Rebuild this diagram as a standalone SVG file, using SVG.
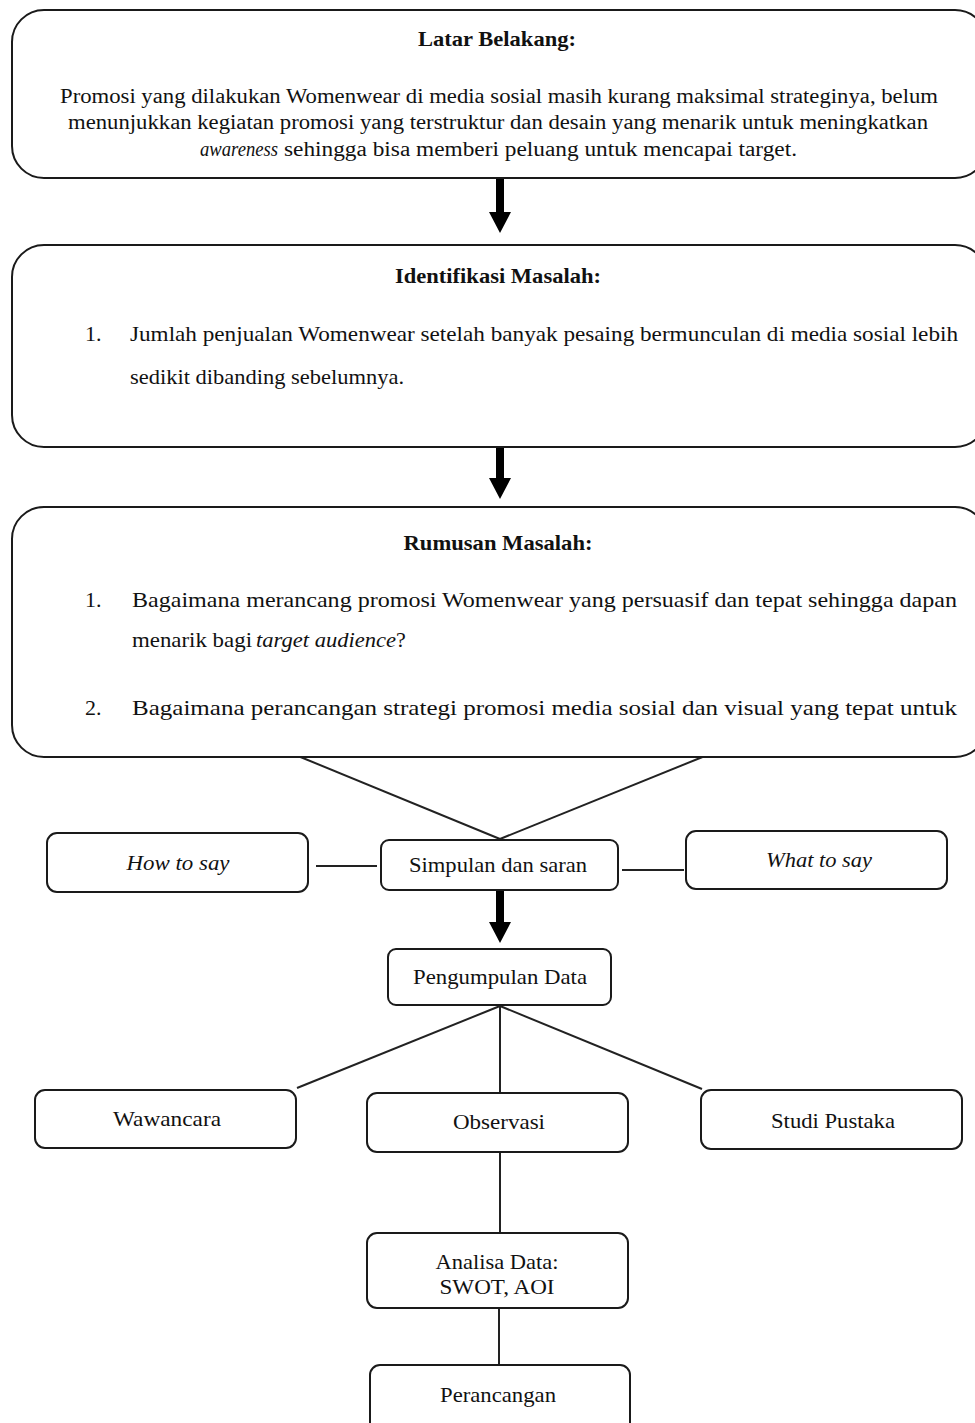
<svg xmlns="http://www.w3.org/2000/svg" width="975" height="1423" viewBox="0 0 975 1423">
<style>
.big{fill:#fff;stroke:#1a1a1a;stroke-width:2}
.box{fill:#fff;stroke:#1a1a1a;stroke-width:2}
.t{font-family:"Liberation Serif","Times New Roman",serif;font-size:20px;fill:#111}
.h{font-size:21px;font-weight:bold}
.l{font-size:22px}
.s{font-size:21px}
.i{font-style:italic}
.c{text-anchor:middle}
.ln{stroke:#222;stroke-width:2;fill:none}
.ar{fill:#000}
</style>
<rect width="975" height="1423" fill="#fff"/>
<g id="connectors">
<path class="ar" d="M496,179 H504 V212 H511 L500,233 L489,212 H496 Z"/>
<path class="ar" d="M496,448 H504 V478 H511 L500,499 L489,478 H496 Z"/>
<path class="ar" d="M496,891 H504 V922 H511 L500,943 L489,922 H496 Z"/>
<line class="ln" x1="298" y1="756" x2="500" y2="839"/>
<line class="ln" x1="705" y1="756" x2="500" y2="839"/>
<line class="ln" x1="316" y1="866" x2="377" y2="866"/>
<line class="ln" x1="622" y1="870" x2="684" y2="870"/>
<line class="ln" x1="500" y1="1006" x2="297" y2="1088"/>
<line class="ln" x1="500" y1="1006" x2="500" y2="1092"/>
<line class="ln" x1="500" y1="1006" x2="702" y2="1089"/>
<line class="ln" x1="500" y1="1152" x2="500" y2="1233"/>
<line class="ln" x1="499" y1="1309" x2="499" y2="1365"/>
</g>
<g id="latar">
<rect class="big" x="12" y="10" width="975" height="168" rx="32"/>
<text class="t h c" x="497" y="46" textLength="158" lengthAdjust="spacingAndGlyphs">Latar Belakang:</text>
<text class="t" x="60" y="103" textLength="878" lengthAdjust="spacingAndGlyphs">Promosi yang dilakukan Womenwear di media sosial masih kurang maksimal strateginya, belum</text>
<text class="t" x="68" y="129" textLength="860" lengthAdjust="spacingAndGlyphs">menunjukkan kegiatan promosi yang terstruktur dan desain yang menarik untuk meningkatkan</text>
<text class="t i" x="200" y="156" textLength="78" lengthAdjust="spacingAndGlyphs">awareness</text>
<text class="t" x="284" y="156" textLength="513" lengthAdjust="spacingAndGlyphs">sehingga bisa memberi peluang untuk mencapai target.</text>
</g>
<g id="identifikasi">
<rect class="big" x="12" y="245" width="975" height="202" rx="32"/>
<text class="t h c" x="498" y="283" textLength="206" lengthAdjust="spacingAndGlyphs">Identifikasi Masalah:</text>
<text class="t l" x="85" y="341">1.</text>
<text class="t l" x="130" y="341" textLength="828" lengthAdjust="spacingAndGlyphs">Jumlah penjualan Womenwear setelah banyak pesaing bermunculan di media sosial lebih</text>
<text class="t l" x="130" y="384" textLength="274" lengthAdjust="spacingAndGlyphs">sedikit dibanding sebelumnya.</text>
</g>
<g id="rumusan">
<rect class="big" x="12" y="507" width="975" height="250" rx="32"/>
<text class="t h c" x="498" y="550" textLength="189" lengthAdjust="spacingAndGlyphs">Rumusan Masalah:</text>
<text class="t l" x="85" y="607">1.</text>
<text class="t l" x="132" y="607" textLength="825" lengthAdjust="spacingAndGlyphs">Bagaimana merancang promosi Womenwear yang persuasif dan tepat sehingga dapan</text>
<text class="t l" x="132" y="647" textLength="120" lengthAdjust="spacingAndGlyphs">menarik bagi</text>
<text class="t l i" x="256" y="647" textLength="140" lengthAdjust="spacingAndGlyphs">target audience</text>
<text class="t l" x="396" y="647">?</text>
<text class="t l" x="85" y="715">2.</text>
<text class="t l" x="132" y="715" textLength="825" lengthAdjust="spacingAndGlyphs">Bagaimana perancangan strategi promosi media sosial dan visual yang tepat untuk</text>
</g>
<g id="howtosay">
<rect class="box" x="47" y="833" width="261" height="59" rx="10"/>
<text class="t s i c" x="178" y="870" textLength="103" lengthAdjust="spacingAndGlyphs">How to say</text>
</g>
<g id="simpulan">
<rect class="box" x="381" y="840" width="237" height="50" rx="8"/>
<text class="t s c" x="498" y="872" textLength="178" lengthAdjust="spacingAndGlyphs">Simpulan dan saran</text>
</g>
<g id="whattosay">
<rect class="box" x="686" y="831" width="261" height="58" rx="10"/>
<text class="t s i c" x="819" y="867" textLength="106" lengthAdjust="spacingAndGlyphs">What to say</text>
</g>
<g id="pengumpulan">
<rect class="box" x="388" y="949" width="223" height="56" rx="8"/>
<text class="t s c" x="500" y="984" textLength="174" lengthAdjust="spacingAndGlyphs">Pengumpulan Data</text>
</g>
<g id="wawancara">
<rect class="box" x="35" y="1090" width="261" height="58" rx="10"/>
<text class="t s c" x="167" y="1126" textLength="108" lengthAdjust="spacingAndGlyphs">Wawancara</text>
</g>
<g id="observasi">
<rect class="box" x="367" y="1093" width="261" height="59" rx="10"/>
<text class="t s c" x="499" y="1129" textLength="92" lengthAdjust="spacingAndGlyphs">Observasi</text>
</g>
<g id="studipustaka">
<rect class="box" x="701" y="1090" width="261" height="59" rx="10"/>
<text class="t s c" x="833" y="1128" textLength="124" lengthAdjust="spacingAndGlyphs">Studi Pustaka</text>
</g>
<g id="analisa">
<rect class="box" x="367" y="1233" width="261" height="75" rx="10"/>
<text class="t s c" x="497" y="1269" textLength="123" lengthAdjust="spacingAndGlyphs">Analisa Data:</text>
<text class="t s c" x="497" y="1294" textLength="115" lengthAdjust="spacingAndGlyphs">SWOT, AOI</text>
</g>
<g id="perancangan">
<rect class="box" x="370" y="1365" width="260" height="70" rx="10"/>
<text class="t s c" x="498" y="1402" textLength="116" lengthAdjust="spacingAndGlyphs">Perancangan</text>
</g>
</svg>
